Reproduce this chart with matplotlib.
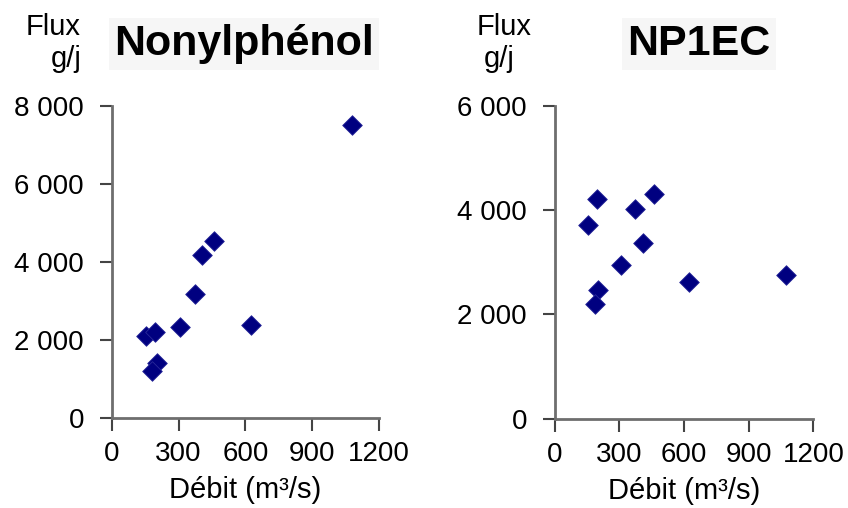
import matplotlib
matplotlib.use("Agg")
import matplotlib.pyplot as plt

plt.rcParams['font.family'] = ['Liberation Sans', 'DejaVu Sans']

# Nonylphenol flux vs river discharge
np_debit = [1080, 458, 404, 375, 307, 625, 155, 196, 202, 182]
np_flux = [7500, 4540, 4180, 3175, 2320, 2390, 2105, 2210, 1400, 1200]

# NP1EC flux vs river discharge
np1ec_debit = [196, 459, 373, 153, 408, 306, 622, 1075, 201, 189]
np1ec_flux = [4220, 4320, 4030, 3720, 3380, 2945, 2630, 2750, 2470, 2195]

x_ticks = [0, 300, 600, 900, 1200]
x_labels = ['0', '300', '600', '900', '1200']
left_yticks = [0, 2000, 4000, 6000, 8000]
left_ylabels = ['0', '2 000', '4 000', '6 000', '8 000']
right_yticks = [0, 2000, 4000, 6000]
right_ylabels = ['0', '2 000', '4 000', '6 000']

fig = plt.figure(figsize=(8.48, 5.08), dpi=100)
ax1 = fig.add_axes([0.1317, 0.1778, 0.3153, 0.6135])
ax2 = fig.add_axes([0.6541, 0.1758, 0.3050, 0.6155])


def style(ax, x, y, yticks, ylabels, title, title_x, flux_x, gj_x):
    ax.scatter(x, y, marker='D', s=100, color='#000080', edgecolors='#2a2a9a',
               linewidths=0.6, zorder=3, clip_on=False)
    ax.set_xlim(0, 1200)
    ax.set_ylim(0, yticks[-1])
    ax.set_xticks(x_ticks)
    ax.set_xticklabels(x_labels)
    ax.set_yticks(yticks)
    ax.set_yticklabels(ylabels)
    for s in ['top', 'right']:
        ax.spines[s].set_visible(False)
    for s in ['left', 'bottom']:
        ax.spines[s].set_color('#6e6e6e')
        ax.spines[s].set_linewidth(2)
    ax.tick_params(axis='both', direction='out', length=9, width=1.5,
                   color='#444444', labelsize=20)
    ax.tick_params(axis='y', pad=11)
    ax.tick_params(axis='x', pad=8)
    ax.set_xlabel('Débit (m³/s)', fontsize=21, labelpad=6)
    fig.text(title_x / 848, 1 - 44 / 508, title, fontsize=31, fontweight='bold',
             ha='center', va='center',
             bbox=dict(facecolor='#f6f6f6', edgecolor='none', pad=4))
    fig.text(flux_x / 848, 1 - 27 / 508, 'Flux', fontsize=21, ha='center', va='center')
    fig.text(gj_x / 848, 1 - 59 / 508, 'g/j', fontsize=21, ha='center', va='center')


style(ax1, np_debit, np_flux, left_yticks, left_ylabels, 'Nonylphénol', 244, 53, 66)
style(ax2, np1ec_debit, np1ec_flux, right_yticks, right_ylabels, 'NP1EC', 699, 504, 499)

plt.savefig('out.png', dpi=100)
plt.close()
